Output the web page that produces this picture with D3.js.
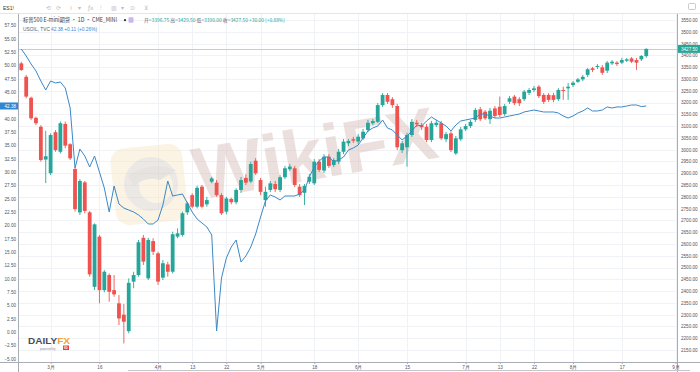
<!DOCTYPE html>
<html><head><meta charset="utf-8">
<script src="https://cdn.jsdelivr.net/npm/d3@7"></script>
<style>body{margin:0;background:#fff;}svg{display:block;font-family:"Liberation Sans",Arial,sans-serif;}</style>
</head><body>
<svg id="c" width="700" height="372"></svg>
<script>
// trading days (2020), last six are future slots used only for the axis
const dates = ["02-21","02-24","02-25","02-26","02-27","02-28",
"03-02","03-03","03-04","03-05","03-06","03-09","03-10","03-11","03-12","03-13","03-16","03-17","03-18","03-19","03-20","03-23","03-24","03-25","03-26","03-27","03-30","03-31",
"04-01","04-02","04-03","04-06","04-07","04-08","04-09","04-13","04-14","04-15","04-16","04-17","04-20","04-21","04-22","04-23","04-24","04-27","04-28","04-29","04-30",
"05-01","05-04","05-05","05-06","05-07","05-08","05-11","05-12","05-13","05-14","05-15","05-18","05-19","05-20","05-21","05-22","05-26","05-27","05-28","05-29",
"06-01","06-02","06-03","06-04","06-05","06-08","06-09","06-10","06-11","06-12","06-15","06-16","06-17","06-18","06-19","06-22","06-23","06-24","06-25","06-26","06-29","06-30",
"07-01","07-02","07-06","07-07","07-08","07-09","07-10","07-13","07-14","07-15","07-16","07-17","07-20","07-21","07-22","07-23","07-24","07-27","07-28","07-29","07-30","07-31",
"08-03","08-04","08-05","08-06","08-07","08-10","08-11","08-12","08-13","08-14","08-17","08-18","08-19","08-20","08-21","08-24",
"08-25","08-26","08-27","08-28","08-31","09-01"];

const esOpen = [3366,3309,3220,3135,3097,2958,2900,3074,2991,3109,
3023,2918,2734,2861,2734,2418,2631,2404,2468,2404,
2348,2300,2230,2440,2468,2626,2454,2612,2560,2457,
2513,2482,2631,2638,2734,2807,2758,2843,2768,2864,
2860,2807,2737,2791,2777,2829,2880,2865,2953,2871,
2786,2829,2854,2829,2883,2917,2921,2843,2817,2864,
2857,2949,2911,2970,2935,2949,2991,3027,3044,3034,
3048,3083,3112,3118,3189,3232,3214,3185,2998,3010,
3062,3114,3104,3097,3041,3104,3112,3044,3069,2984,
3044,3086,3100,3126,3171,3161,3129,3175,3182,3151,
3203,3225,3214,3214,3241,3253,3267,3232,3232,3231,
3214,3253,3260,3274,3288,3298,3317,3345,3352,3349,
3335,3366,3369,3369,3377,3387,3380,3383,3396.75];
const esHigh = [3373,3317,3225,3140,3104,3080,3069,3083,3119,3119,
3027,2923,2875,2867,2740,2687,2638,2489,2475,2468,
2383,2345,2454,2482,2617,2638,2626,2624,2567,2532,
2524,2652,2666,2737,2779,2815,2847,2850,2800,2885,
2871,2815,2800,2796,2836,2884,2895,2949,2964,2880,
2843,2867,2867,2892,2931,2939,2931,2854,2854,2897,
2960,2960,2981,2981,2964,3003,3045,3045,3054,3066,
3088,3126,3130,3198,3240,3240,3223,3194,3037,3071,
3130,3126,3113,3109,3122,3126,3122,3075,3079,3058,
3096,3109,3126,3177,3181,3168,3177,3185,3225,3194,
3228,3232,3223,3253,3261,3270,3274,3240,3240,3241,
3261,3267,3283,3291,3304,3317,3346,3351,3363,3359,
3376,3380,3376,3389,3389,3393,3389,3401,3429.5];
const esLow = [3334,3218,3126,3104,2949,2858,2892,2991,2984,3006,
2956,2737,2723,2730,2461,2404,2348,2395,2355,2376,
2256,2178,2221,2412,2461,2511,2447,2553,2426,2447,
2461,2475,2624,2631,2723,2751,2751,2751,2758,2857,
2800,2723,2726,2768,2768,2816,2850,2858,2892,2807,
2758,2820,2820,2820,2875,2909,2841,2799,2765,2854,
2850,2905,2901,2922,2926,2939,2981,3015,3028,3024,
3041,3075,3104,3113,3181,3194,3177,2998,2986,2928,
3054,3096,3083,3032,3032,3096,3041,3032,2990,2977,
3037,3079,3092,3117,3121,3126,3109,3134,3138,3143,
3194,3189,3185,3206,3232,3244,3219,3194,3202,3201,
3206,3211,3211,3266,3283,3291,3308,3329,3342,3317,
3325,3359,3355,3363,3372,3367,3338,3376,3390];
const esClose = [3338,3225,3133,3112,2956,2972,3062,2998,3112,3017,
2963,2748,2867,2740,2471,2683,2404,2482,2397,2386,
2284,2270,2435,2468,2607,2525,2617,2567,2440,2518,
2482,2641,2645,2730,2772,2758,2838,2758,2786,2878,
2807,2730,2793,2777,2829,2871,2860,2939,2900,2821,
2821,2857,2832,2883,2921,2928,2850,2807,2846,2885,
2949,2914,2970,2931,2956,2991,3034,3037,3038,3055,
3076,3114,3121,3189,3232,3203,3189,3010,3027,3062,
3118,3108,3095,3041,3112,3114,3048,3066,2998,3048,
3086,3100,3118,3168,3129,3133,3165,3143,3147,3185,
3218,3197,3197,3246,3253,3260,3227,3203,3211,3211,
3253,3249,3267,3284,3298,3309,3341,3338,3355,3326,
3369,3373,3363,3380,3383,3373,3369,3397.5,3427.5];

const oil = [53.06,51.75,50.25,48.94,47.06,45.37,47.06,46.69,46.87,45.75,
42.0,30.75,34.31,33.0,30.94,33.0,30.0,27.0,22.5,27.37,
24.0,23.25,22.87,22.5,21.94,21.19,20.25,20.25,21.0,23.81,
28.31,25.5,25.69,25.87,24.19,22.5,21.19,20.44,19.69,18.19,
0.19,10.12,13.87,15.94,17.25,13.12,14.25,15.94,18.37,21.56,
24.56,25.69,25.31,24.75,25.5,25.5,25.5,25.87,26.62,29.06,
30.94,32.06,32.81,32.81,31.87,32.25,32.81,34.12,34.5,35.06,
36.37,37.69,38.25,38.62,39.75,38.25,37.87,36.94,36.0,36.75,
37.69,38.81,38.62,39.56,40.31,39.75,39.19,38.62,37.69,38.81,
39.56,39.75,39.94,40.12,40.87,40.87,40.5,40.12,40.12,40.31,
40.5,40.69,40.87,41.25,41.44,41.62,41.44,41.25,41.25,41.25,
41.06,40.5,40.12,40.5,41.06,41.44,42.0,41.44,41.44,41.62,
42.19,42.0,42.19,42.19,42.37,42.56,42.56,42.27,42.38];

const tickDates = ["03-02","03-16","04-01","04-13","04-22","05-01","05-18","06-01","06-15","07-01","07-13","07-22","08-03","08-17","09-01"];
const tickLabels = ["3月","16","4月","13","22","5月","18","6月","15","7月","13","22","8月","17","9月"];
const rightTicks = d3.range(2150, 3551, 50);
const leftTicks = d3.range(-5, 57.6, 2.5);

const title = "标普500 E-mini期货 · 1D · CME_MINI";
const oilName = "USOIL, TVC";

const W=700,H=372, L=18, R=677, T=13, B=362;
const UP="#26a69a", DN="#ef5350", OILC="#3b88c6";
const svg=d3.select("#c");
svg.append("rect").attr("width",W).attr("height",H).attr("fill","#fff");

const x=d3.scaleLinear().domain([-0.68,134.3]).range([L,R]);
const yR=d3.scaleLinear().domain([2150,3550]).range([350,20]);
const yL=d3.scaleLinear().domain([0,57.5]).range([332,25.33]);

svg.append("defs").append("clipPath").attr("id","clip").append("rect")
  .attr("x",L).attr("y",T).attr("width",R-L).attr("height",B-T);

// grid
const grid=svg.append("g").attr("stroke","#f1f2f5").attr("stroke-width",1);
grid.selectAll("line.h").data(rightTicks).join("line")
  .attr("x1",L).attr("x2",R).attr("y1",d=>Math.round(yR(d))+0.5).attr("y2",d=>Math.round(yR(d))+0.5);
grid.selectAll("line.v").data(tickDates).join("line")
  .attr("y1",T).attr("y2",B).attr("x1",d=>Math.round(x(dates.indexOf(d)))+0.5).attr("x2",d=>Math.round(x(dates.indexOf(d)))+0.5);

// WikiFX watermark
const wm=svg.append("g").attr("opacity",0.5);
wm.append("rect").attr("x",113).attr("y",146).attr("width",72).attr("height",77).attr("rx",14)
  .attr("fill","#f8e9c8").attr("transform","rotate(-6,149,184)");
wm.append("circle").attr("cx",151).attr("cy",184).attr("r",27).attr("fill","#d8d2cc");
wm.append("circle").attr("cx",156).attr("cy",186).attr("r",17).attr("fill","#f8e9c8");
wm.append("path").attr("d","M128,176 Q150,160 176,170 L160,180 Q146,176 134,186 Z").attr("fill","#d0c9c2");
wm.append("text").attr("x",198).attr("y",200).attr("font-size",74).attr("font-weight","bold")
  .attr("fill","#d9c2bc").attr("transform","rotate(-10,198,200)").text("WikiFX");

// last price line
svg.append("line").attr("x1",L).attr("x2",R)
  .attr("y1",Math.round(yR(esClose[esClose.length-1]))+0.5).attr("y2",Math.round(yR(esClose[esClose.length-1]))+0.5)
  .attr("stroke","#c9ccd3").attr("stroke-width",1);

const plot=svg.append("g").attr("clip-path","url(#clip)");
const idx=d3.range(esClose.length);
const bw=3.8;
plot.selectAll("line.w").data(idx).join("line")
  .attr("x1",i=>x(i)).attr("x2",i=>x(i))
  .attr("y1",i=>yR(esHigh[i])).attr("y2",i=>yR(esLow[i]))
  .attr("stroke",i=>esClose[i]>=esOpen[i]?UP:DN).attr("stroke-width",0.9);
plot.selectAll("rect.b").data(idx).join("rect")
  .attr("x",i=>x(i)-bw/2).attr("width",bw)
  .attr("y",i=>yR(Math.max(esOpen[i],esClose[i])))
  .attr("height",i=>Math.max(1,Math.abs(yR(esOpen[i])-yR(esClose[i]))))
  .attr("fill",i=>esClose[i]>=esOpen[i]?UP:DN);

plot.append("path").datum(idx)
  .attr("d",d3.line().x(i=>x(i)).y(i=>yL(oil[i])))
  .attr("fill","none").attr("stroke",OILC).attr("stroke-width",1);

// frame lines
const fr=svg.append("g").attr("stroke","#a9acb4").attr("stroke-width",1);
svg.append("line").attr("x1",0).attr("x2",W).attr("y1",13.5).attr("y2",13.5).attr("stroke","#e3e5ea");
fr.append("line").attr("x1",L+0.5).attr("x2",L+0.5).attr("y1",T).attr("y2",H);
fr.append("line").attr("x1",R+0.5).attr("x2",R+0.5).attr("y1",T).attr("y2",H);
fr.append("line").attr("x1",0).attr("x2",W).attr("y1",B+0.5).attr("y2",B+0.5);
svg.append("line").attr("x1",128).attr("x2",690).attr("y1",370.5).attr("y2",370.5).attr("stroke","#c4c6cc");

// axes
const axFont=4.6, axCol="#50535e";
const gl=svg.append("g").attr("transform",`translate(${L},0)`)
  .call(d3.axisLeft(yL).tickValues(leftTicks).tickSize(0).tickPadding(2).tickFormat(d3.format(".2f")));
const gr=svg.append("g").attr("transform",`translate(${R},0)`)
  .call(d3.axisRight(yR).tickValues(rightTicks).tickSize(0).tickPadding(4).tickFormat(d3.format(".2f")));
const gb=svg.append("g").attr("transform",`translate(0,${B})`)
  .call(d3.axisBottom(x).tickValues(tickDates.map(d=>dates.indexOf(d))).tickSize(2).tickPadding(1.5)
  .tickFormat((d,i)=>tickLabels[i]));
[gl,gr,gb].forEach(g=>{g.select(".domain").remove();
  g.selectAll("text").attr("font-size",axFont).attr("fill",axCol).attr("font-family","Liberation Sans, Arial, sans-serif");
  g.selectAll("line").attr("stroke","#a9acb4");});

// highlighted last values
const lastC=esClose[esClose.length-1], lastO=oil[oil.length-1];
svg.append("rect").attr("x",R+1).attr("y",yR(lastC)-4).attr("width",W-R-1).attr("height",8).attr("fill",UP);
svg.append("text").attr("x",R+4).attr("y",yR(lastC)+1.7).attr("font-size",axFont).attr("fill","#fff").text(d3.format(".2f")(lastC));
svg.append("rect").attr("x",0).attr("y",yL(lastO)-3.5).attr("width",L).attr("height",7).attr("fill","#2f88cf");
svg.append("text").attr("x",L-2).attr("y",yL(lastO)+1.6).attr("text-anchor","end").attr("font-size",axFont).attr("fill","#fff").text(d3.format(".2f")(lastO));

// toolbar
svg.append("text").attr("x",3).attr("y",9.5).attr("font-size",5).attr("fill","#333").text("ES1!");
const tb=["⟲","⟳","⁞","▾","ƒx","⫶","▥","▾","⊙","⊻"], tbx=[46,56,70,78,88,100,111,121,130,144];
svg.selectAll("text.tb").data(tb).join("text").attr("x",(d,i)=>tbx[i]).attr("y",9.5)
  .attr("font-size",6).attr("fill","#b9bcc4").attr("font-family","DejaVu Sans").text(d=>d);
svg.append("rect").attr("x",688.5).attr("y",3.5).attr("width",7).attr("height",6).attr("rx",1).attr("fill","none").attr("stroke","#b9bcc4").attr("stroke-width",0.8);

// legend row 1
const n=esClose.length-1, chg=esClose[n]-esClose[n-1], pct=chg/esClose[n-1]*100;
svg.append("text").attr("x",23).attr("y",22).attr("font-size",5.6).attr("fill","#3c3f48")
  .attr("font-family","Noto Sans CJK SC, sans-serif").attr("textLength",94).attr("lengthAdjust","spacingAndGlyphs").text(title);
svg.append("circle").attr("cx",125).attr("cy",20.2).attr("r",1.1).attr("fill","#333");
svg.append("rect").attr("x",128.5).attr("y",17.3).attr("width",5).attr("height",5.5).attr("rx",0.8).attr("fill","#c9b8ef");
const f2=d3.format(".2f");
const ohlc=svg.append("text").attr("x",144).attr("y",22).attr("font-size",4.9)
  .attr("font-family","Noto Sans CJK SC, sans-serif").attr("textLength",141).attr("lengthAdjust","spacingAndGlyphs");
[["开=",f2(esOpen[n])],["高=",f2(esHigh[n])],["低=",f2(esLow[n])],["收=",f2(esClose[n])]].forEach(([k,v])=>{
  ohlc.append("tspan").attr("fill","#5d606b").text(k);
  ohlc.append("tspan").attr("fill",UP).text(v+" ");
});
ohlc.append("tspan").attr("fill",UP).text(`${chg>=0?"+":""}${f2(chg)} (${pct>=0?"+":""}${f2(pct)}%)`);

// legend row 2
const oc=oil[n]-oil[n-1], op=oc/oil[n-1]*100;
svg.append("text").attr("x",23).attr("y",31).attr("font-size",4.9).attr("fill","#5d606b")
  .attr("textLength",27).attr("lengthAdjust","spacingAndGlyphs").text(oilName);
svg.append("text").attr("x",51).attr("y",31).attr("font-size",4.9).attr("fill","#2f88cf")
  .attr("textLength",46).attr("lengthAdjust","spacingAndGlyphs")
  .text(`${f2(oil[n])}  ${oc>=0?"+":""}${f2(oc)} (${op>=0?"+":""}${f2(op)}%)`);

// DailyFX logo
const dl=svg.append("text").attr("x",28).attr("y",343.5).attr("font-size",8.5).attr("font-weight","bold")
  .attr("textLength",42).attr("lengthAdjust","spacingAndGlyphs");
dl.append("tspan").attr("fill","#4a4d55").text("DAILY");
dl.append("tspan").attr("fill","#f0a23a").text("FX");
svg.append("text").attr("x",40).attr("y",349.5).attr("font-size",3).attr("fill","#8a8d95").text("powered by");
svg.append("rect").attr("x",63).attr("y",345.5).attr("width",6).attr("height",4.5).attr("fill","#e2413b");
svg.append("text").attr("x",64).attr("y",349.2).attr("font-size",3.5).attr("font-weight","bold").attr("fill","#fff").text("IG");
</script>
</body></html>
